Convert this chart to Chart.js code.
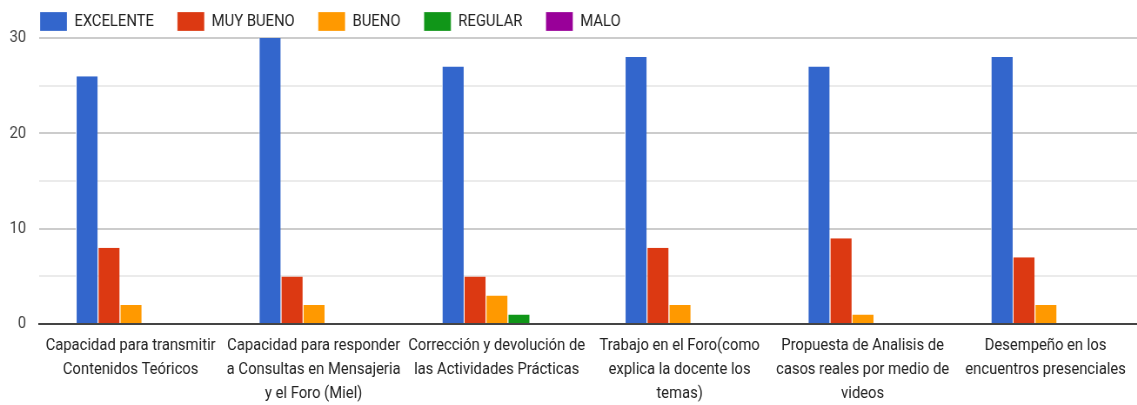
<!DOCTYPE html>
<html lang="es">
  <head>
    <meta charset="UTF-8" />
    <script src="https://cdn.jsdelivr.net/npm/chart.js"></script>
    <title>Encuesta docente</title>
    <style>
      html, body { margin: 0; padding: 0; background: #ffffff; overflow: hidden; }
      /* the source chart is horizontally squeezed, so draw wide and scale down */
      .chart-container {
        width: 1307px;
        height: 405px;
        position: relative;
        transform: scaleX(0.87);
        transform-origin: left top;
      }
    </style>
  </head>
  <body>
    <div class="chart-container">
      <canvas id="surveyChart"></canvas>
    </div>

    <script>
      const categories = [
        ["Capacidad para transmitir", "Contenidos Teóricos"],
        ["Capacidad para responder", "a Consultas en Mensajeria", "y el Foro (Miel)"],
        ["Corrección y devolución de", "las Actividades Prácticas"],
        ["Trabajo en el Foro(como", "explica la docente los", "temas)"],
        ["Propuesta de Analisis de", "casos reales por medio de", "videos"],
        ["Desempeño en los", "encuentros presenciales"],
      ];
      const excelente = [26, 30, 27, 28, 27, 28];
      const muyBueno = [8, 5, 5, 8, 9, 7];
      const bueno = [2, 2, 3, 2, 1, 2];
      const regular = [0, 0, 1, 0, 0, 0];
      const malo = [0, 0, 0, 0, 0, 0];
      const yTicks = [0, 10, 20, 30];
      const yGrid = [0, 5, 10, 15, 20, 25, 30];

      function ds(label, data, color) {
        return {
          label: label,
          data: data,
          backgroundColor: color,
          borderColor: "#ffffff",
          borderWidth: { left: 1, right: 0, top: 0, bottom: 0 },
          borderSkipped: false,
          categoryPercentage: 0.6,
          barPercentage: 1.0,
        };
      }

      // move the legend right a bit without moving the y axis labels
      const legendNudge = {
        id: "legendNudge",
        afterLayout(chart) {
          chart.legend.left += 9;
        },
      };

      new Chart(document.getElementById("surveyChart").getContext("2d"), {
        type: "bar",
        data: {
          labels: categories,
          datasets: [
            ds("EXCELENTE", excelente, "#3366cc"),
            ds("MUY BUENO", muyBueno, "#dc3912"),
            ds("BUENO", bueno, "#ff9900"),
            ds("REGULAR", regular, "#109618"),
            ds("MALO", malo, "#990099"),
          ],
        },
        plugins: [legendNudge],
        options: {
          responsive: true,
          maintainAspectRatio: false,
          animation: false,
          layout: { padding: { left: 10, right: 0, top: -15, bottom: -11 } },
          plugins: {
            tooltip: { enabled: false },
            legend: {
              display: true,
              position: "top",
              align: "start",
              maxHeight: 53,
              labels: {
                boxWidth: 31,
                boxHeight: 19,
                padding: 27,
                color: "#222222",
                font: { family: "Roboto", size: 17 },
              },
            },
          },
          scales: {
            x: {
              grid: { display: false, drawTicks: false },
              border: { color: "#444444", width: 2 },
              ticks: {
                maxRotation: 0,
                autoSkip: false,
                padding: 10,
                color: "#222222",
                font: { family: "Roboto", size: 17, lineHeight: 1.41 },
              },
            },
            y: {
              min: 0,
              max: 30,
              border: { display: false },
              afterFit: (axis) => {
                axis.width = 35;
              },
              afterBuildTicks: (axis) => {
                axis.ticks = yGrid.map((v) => ({ value: v }));
              },
              grid: {
                color: (ctx) =>
                  yTicks.includes(ctx.tick.value) ? "#cccccc" : "#ebebeb",
                lineWidth: 2,
                drawTicks: false,
              },
              ticks: {
                padding: 15,
                color: "#444444",
                font: { family: "Roboto", size: 17 },
                callback: (v) => (yTicks.includes(v) ? v : ""),
              },
            },
          },
        },
      });
    </script>
  </body>
</html>
